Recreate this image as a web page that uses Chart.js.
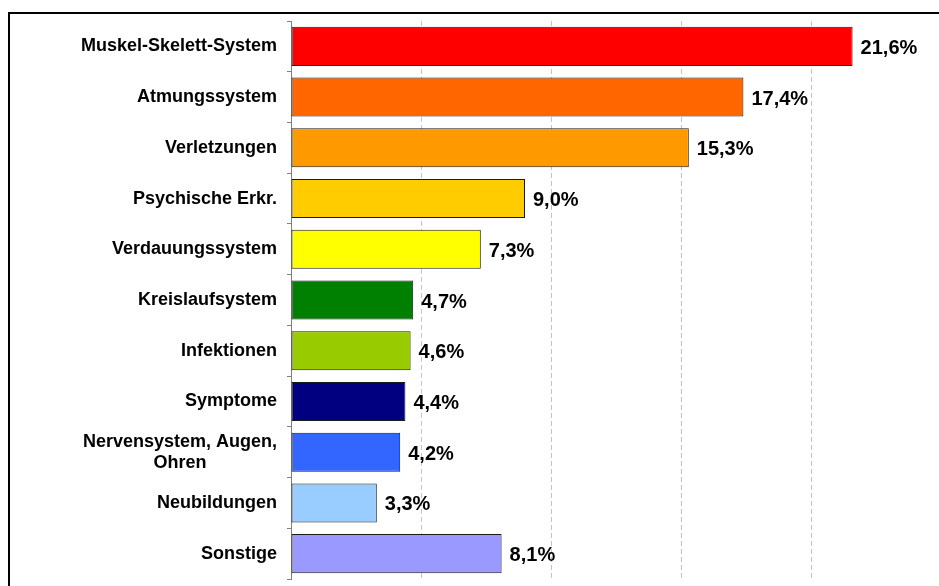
<!DOCTYPE html>
<html>
<head>
<meta charset="utf-8">
<script src="https://cdn.jsdelivr.net/npm/chart.js@4.4.1/dist/chart.umd.min.js"></script>
<style>
    html, body { margin: 0; padding: 0; background: #fff; overflow: hidden; width: 939px; height: 586px; }
    #frame { position: absolute; left: 8px; top: 12px; width: 1000px; height: 1000px; border-left: 2px solid #000; border-top: 2px solid #000; }
    #wrap { position: absolute; left: 0; top: 0; width: 950px; height: 586px; }
</style>
</head>
<body>
<div id="frame"></div>
<div id="wrap"><canvas id="chart"></canvas></div>
<script>
const categories = [
    'Muskel-Skelett-System',
    'Atmungssystem',
    'Verletzungen',
    'Psychische Erkr.',
    'Verdauungssystem',
    'Kreislaufsystem',
    'Infektionen',
    'Symptome',
    ['Nervensystem, Augen,', 'Ohren'],
    'Neubildungen',
    'Sonstige'
];
const shares = [21.6, 17.4, 15.3, 9.0, 7.3, 4.7, 4.6, 4.4, 4.2, 3.3, 8.1];
const barColors = [
    '#FF0000', '#FF6600', '#FF9900', '#FFCC00', '#FFFF00',
    '#008000', '#99CC00', '#000080', '#3366FF', '#99CCFF', '#9999FF'
];

const FONT = '"Liberation Sans", Arial, sans-serif';
const fmt = v => v.toFixed(1).replace('.', ',') + '%';

// category names (multi-line block centred on itself, block right-aligned)
// and value labels right of each bar
const barText = {
    id: 'barText',
    afterDatasetsDraw(chart) {
        const ctx = chart.ctx;
        const yScale = chart.scales.y;
        const meta = chart.getDatasetMeta(0);
        const right = yScale.right - 14;
        const lineH = 21;
        ctx.save();
        ctx.fillStyle = '#000';
        ctx.textBaseline = 'middle';

        ctx.font = 'bold 18px ' + FONT;
        categories.forEach((label, i) => {
            const lines = Array.isArray(label) ? label : [label];
            const widths = lines.map(l => ctx.measureText(l).width);
            const blockW = Math.max(...widths);
            const cy = yScale.getPixelForTick(i);
            const y0 = cy - (lines.length - 1) * lineH / 2;
            ctx.textAlign = 'center';
            lines.forEach((l, k) => {
                ctx.fillText(l, right - blockW / 2, y0 + k * lineH);
            });
        });

        ctx.font = 'bold 20px ' + FONT;
        ctx.textAlign = 'left';
        meta.data.forEach((bar, i) => {
            ctx.fillText(fmt(shares[i]), bar.x + 8, bar.y + 2);
        });
        ctx.restore();
    }
};

new Chart(document.getElementById('chart'), {
    type: 'bar',
    data: {
        labels: categories,
        datasets: [{
            data: shares,
            backgroundColor: barColors,
            borderColor: '#1a1a1a',
            borderWidth: 1,
            borderSkipped: false,
            barPercentage: 0.77,
            categoryPercentage: 1
        }]
    },
    options: {
        indexAxis: 'y',
        responsive: true,
        maintainAspectRatio: false,
        animation: false,
        layout: { padding: { left: 0, right: 9, top: 21, bottom: 7 } },
        plugins: {
            legend: { display: false },
            tooltip: { enabled: false }
        },
        scales: {
            x: {
                min: 0,
                max: 25,
                ticks: { display: false, stepSize: 5 },
                border: { display: false, dash: [5, 3] },
                grid: {
                    drawTicks: false,
                    color: ctx => ctx.tick && ctx.tick.value === 0 ? 'rgba(0,0,0,0)' : '#C4C4C4',
                    lineWidth: 1
                },
                afterFit: scale => { scale.height = 0; }
            },
            y: {
                border: { display: true, color: '#808080', width: 1 },
                grid: {
                    offset: true,
                    drawOnChartArea: false,
                    drawTicks: true,
                    tickLength: 4,
                    color: '#808080'
                },
                ticks: { display: false },
                afterFit: scale => { scale.width = 291; }
            }
        }
    },
    plugins: [barText]
});
</script>
</body>
</html>
